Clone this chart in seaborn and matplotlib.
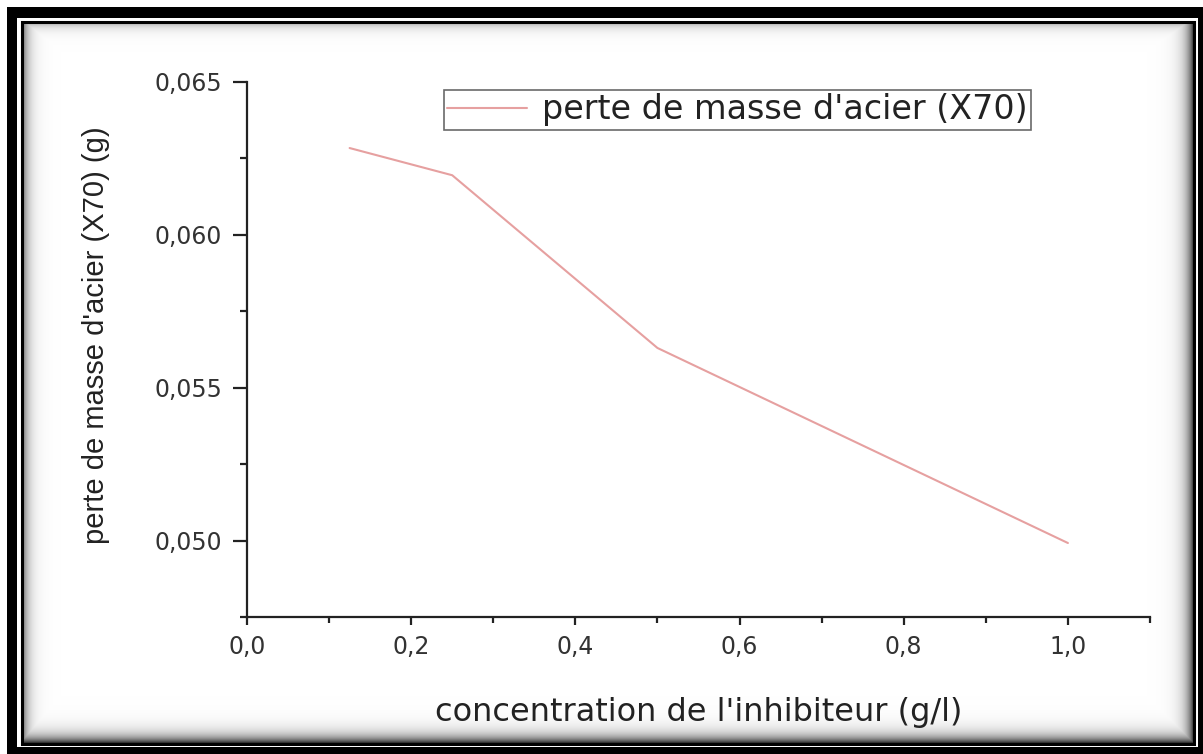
import numpy as np
import pandas as pd
import matplotlib
matplotlib.use("Agg")
import matplotlib.pyplot as plt
from matplotlib.patches import Rectangle
from matplotlib.ticker import MultipleLocator, FuncFormatter
import seaborn as sns

# Mass loss of X70 steel versus inhibitor concentration
concentration = [0.125, 0.25, 0.5, 1.0]          # g/l
perte_masse = [0.06284, 0.06195, 0.05630, 0.04992]  # g

x_label = "concentration de l'inhibiteur (g/l)"
y_label = "perte de masse d'acier (X70) (g)"
series_label = "perte de masse d'acier (X70)"

x_major = [0.0, 0.2, 0.4, 0.6, 0.8, 1.0]
y_major = [0.050, 0.055, 0.060, 0.065]

sns.set_style("ticks")
plt.rcParams["font.family"] = ["DejaVu Sans"]

W, H = 1203, 754
fig = plt.figure(figsize=(W / 100, H / 100), dpi=100)
fig.patch.set_facecolor("white")

# ---- picture frame (thick black border, thin inner rule, soft inner shadow)
bg = fig.add_axes([0, 0, 1, 1], zorder=-10)
bg.set_axis_off()
bg.set_xlim(0, W)
bg.set_ylim(H, 0)
bg.add_patch(Rectangle((7, 7), W + 10, H + 10, facecolor="black", edgecolor="none"))
bg.add_patch(Rectangle((17, 18), 1198 - 17, 747 - 18, facecolor="white", edgecolor="none"))

x0, y0, x1, y1 = 23, 24, 1193, 743
nx, ny = x1 - x0, y1 - y0
xx = np.arange(nx)[None, :] + 0.5
yy = np.arange(ny)[:, None] + 0.5
shade = np.maximum.reduce([
    0.55 * np.exp(-xx / 6.0) * np.ones_like(yy),
    0.25 * np.exp(-yy / 5.0) * np.ones_like(xx),
    0.75 * np.exp(-(nx - xx) / 7.0) * np.ones_like(yy),
    0.85 * np.exp(-(ny - yy) / 7.0) * np.ones_like(xx),
])
shade[shade < 1e-3] = 0.0
img = np.dstack([1 - shade] * 3)
bg.imshow(img, extent=(x0, x1, y1, y0), interpolation="bilinear", aspect="auto", zorder=1)
bg.add_patch(Rectangle((22, 22), 1194 - 22, 744 - 22, facecolor="none",
                       edgecolor="black", linewidth=2.2, zorder=2))

# ---- main axes
ax = fig.add_axes([247 / W, 1 - 617 / H, (1150 - 247) / W, (617 - 82) / H])
ax.set_facecolor("none")
df = pd.DataFrame({"concentration": concentration, "perte": perte_masse})
sns.lineplot(data=df, x="concentration", y="perte", ax=ax, color="#e6a0a0",
             linewidth=1.5, label=series_label)

ax.set_xlim(0, 1.1)
ax.set_ylim(0.0475, 0.065)
ax.set_xticks(x_major)
ax.set_yticks(y_major)
ax.xaxis.set_minor_locator(MultipleLocator(0.1))
ax.yaxis.set_minor_locator(MultipleLocator(0.0025))
ax.xaxis.set_major_formatter(FuncFormatter(lambda v, p: f"{v:.1f}".replace(".", ",")))
ax.yaxis.set_major_formatter(FuncFormatter(lambda v, p: f"{v:.3f}".replace(".", ",")))

for side in ("top", "right"):
    ax.spines[side].set_visible(False)
for side in ("left", "bottom"):
    ax.spines[side].set_linewidth(1.6)
    ax.spines[side].set_color("#222222")

ax.tick_params(axis="x", which="major", length=6, width=1.6, pad=7,
               labelsize=17, labelcolor="#333333", color="#222222")
ax.tick_params(axis="x", which="minor", length=4, width=1.6, color="#222222")
ax.tick_params(axis="y", which="major", length=10, width=1.6, pad=8,
               labelsize=17, labelcolor="#333333", color="#222222")
ax.tick_params(axis="y", which="minor", length=5, width=1.6, color="#222222")

ax.set_xlabel(x_label, fontsize=23, color="#222222", va="center")
ax.xaxis.set_label_coords(0.5, (617 - 712) / 535)
ax.set_ylabel(y_label, fontsize=21, color="#222222", va="center",
              family=["Liberation Sans", "DejaVu Sans"])
ax.yaxis.set_label_coords((96 - 247) / 903, (617 - 335) / 535)

leg = ax.legend(loc="upper left", bbox_to_anchor=(444 / W, 1 - 90 / H),
                bbox_transform=fig.transFigure, frameon=True, fancybox=False,
                fontsize=24, handlelength=2.4, handletextpad=0.45,
                borderpad=0.1, borderaxespad=0)
leg.get_frame().set_edgecolor("#444444")
leg.get_frame().set_linewidth(1.2)
for t in leg.get_texts():
    t.set_color("#222222")

fig.savefig("out.png", dpi=100)
